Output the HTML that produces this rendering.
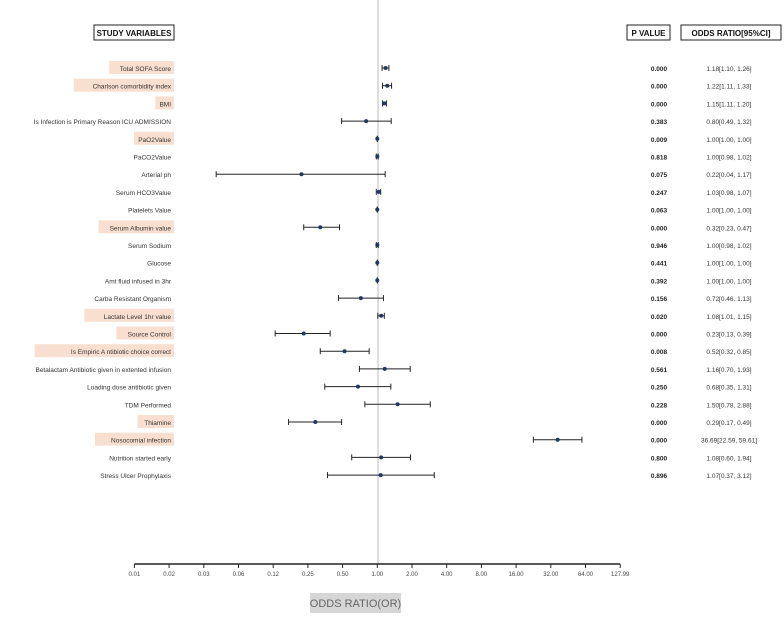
<!DOCTYPE html>
<html><head><meta charset="utf-8"><style>
body{margin:0;background:#fff;width:784px;height:613px;overflow:hidden;font-family:"Liberation Sans",sans-serif}
</style></head><body>
<svg width="784" height="613" font-family="Liberation Sans, sans-serif">
<g id="g"></g>
</svg>
<script>
const labels=["Total SOFA Score","Charlson comorbidity index","BMI","Is Infection is  Primary Reason ICU ADMISSION","PaO2Value","PaCO2Value","Arterial ph","Serum HCO3Value","Platelets Value","Serum Albumin value","Serum Sodium","Glucose","Amt fluid infused in 3hr","Carba Resistant  Organism","Lactate Level 1hr value","Source Control","Is Empiric A ntibiotic choice correct","Betalactam Antibiotic given in extented infusion","Loading dose antibiotic given","TDM Performed","Thiamine","Nosocomial infection","Nutrition started early","Stress Ulcer Prophylaxis"];
const highlighted=[1,1,1,0,1,0,0,0,0,1,0,0,0,0,1,1,1,0,0,0,1,1,0,0];
const orv=[1.18,1.22,1.15,0.80,1.00,1.00,0.22,1.03,1.00,0.32,1.00,1.00,1.00,0.72,1.08,0.23,0.52,1.16,0.68,1.50,0.29,36.69,1.08,1.07];
const lo=[1.10,1.11,1.11,0.49,1.00,0.98,0.04,0.98,1.00,0.23,0.98,1.00,1.00,0.46,1.01,0.13,0.32,0.70,0.35,0.78,0.17,22.59,0.60,0.37];
const hi=[1.26,1.33,1.20,1.32,1.00,1.02,1.17,1.07,1.00,0.47,1.02,1.00,1.00,1.13,1.15,0.39,0.85,1.93,1.31,2.88,0.49,59.61,1.94,3.12];
const pvals=["0.000","0.000","0.000","0.383","0.009","0.818","0.075","0.247","0.063","0.000","0.946","0.441","0.392","0.156","0.020","0.000","0.008","0.561","0.250","0.228","0.000","0.000","0.800","0.896"];
const ticks=[1/128,1/64,1/32,1/16,1/8,1/4,1/2,1,2,4,8,16,32,64,127.99];
const tickLabels=["0.01","0.02","0.03","0.06","0.12","0.25","0.50","1.00","2.00","4.00","8.00","16.00","32.00","64.00","127.99"];
const NS="http://www.w3.org/2000/svg",g=document.getElementById('g');
const x=v=>377.3+34.7*Math.log2(v);
const y=i=>68+i*17.7;
function el(t,a,p){const e=document.createElementNS(NS,t);for(const k in a)e.setAttribute(k,a[k]);(p||g).appendChild(e);return e;}
function txt(s,a){const e=el('text',a);e.textContent=s;return e;}
// ref line
let e=el('line',{x1:378,y1:0,x2:378,y2:564,stroke:'#bbb','stroke-width':1});


// headers
e=el('rect',{x:94,y:25,width:80,height:15,fill:'#fff',stroke:'#222','stroke-width':1});


txt('STUDY VARIABLES',{x:134,y:36,'font-size':8,'font-weight':'bold','text-anchor':'middle',fill:'#111'});
e=el('rect',{x:627,y:25,width:43,height:15,fill:'#fff',stroke:'#222','stroke-width':1});


txt('P VALUE',{x:648.5,y:36,'font-size':8,'font-weight':'bold','text-anchor':'middle',fill:'#111'});
e=el('rect',{x:681,y:25,width:100,height:15,fill:'#fff',stroke:'#222','stroke-width':1});


txt('ODDS  RATIO[95%CI]',{x:731,y:36,'font-size':8,'font-weight':'bold','text-anchor':'middle',fill:'#111'});
labels.forEach((l,i)=>{
  const yy=y(i);
  if(highlighted[i]){
    const w=l.length*3.55+8;
    const r=el('rect',{x:174-w,y:yy-7,width:w,height:13,fill:'#f9dfcf'});
    
    
  }
  const t=txt(l,{x:171,y:yy+3,'font-size':6.5,'text-anchor':'end',fill:'#333'});
  
  
  const c=el('line',{x1:x(lo[i]),y1:yy,x2:x(hi[i]),y2:yy,stroke:'#222','stroke-width':1});
  
  
  [lo[i],hi[i]].forEach(v=>{const cap=el('line',{x1:x(v),y1:yy-3,x2:x(v),y2:yy+3,stroke:'#222','stroke-width':1});
  
  });
  const d=el('circle',{cx:x(orv[i]),cy:yy,r:2,fill:'#1f3864'});
  
  
  const p=txt(pvals[i],{x:659,y:yy+3,'font-size':6.5,'font-weight':'bold','text-anchor':'middle',fill:'#222'});
  
  
  const o=txt(orv[i].toFixed(2)+'['+lo[i].toFixed(2)+', '+hi[i].toFixed(2)+']',{x:729,y:yy+3,'font-size':6.5,'text-anchor':'middle',fill:'#333'});
  
  
});
// axis
e=el('line',{x1:x(ticks[0]),y1:564,x2:x(ticks[ticks.length-1]),y2:564,stroke:'#222','stroke-width':1.5});


ticks.forEach((v,i)=>{
  const t=el('line',{x1:x(v),y1:564,x2:x(v),y2:568,stroke:'#222','stroke-width':1});
  
  
  const lb=txt(tickLabels[i],{x:x(v),y:576,'font-size':6,'text-anchor':'middle',fill:'#444'});
  
  
});
e=el('rect',{x:310,y:593,width:91,height:20,fill:'#d6d6d6'});


e=txt('ODDS RATIO(OR)',{x:355.5,y:607,'font-size':11,'text-anchor':'middle',fill:'#666'});


</script>
</body></html>
